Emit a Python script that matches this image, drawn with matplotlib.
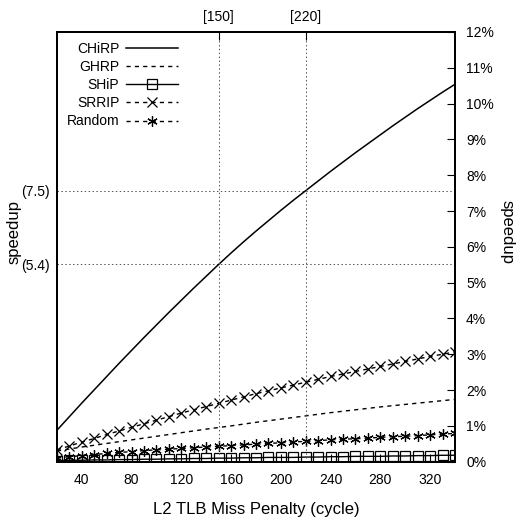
import matplotlib
matplotlib.use('Agg')
import matplotlib.pyplot as plt

plt.rcParams['font.family'] = ['Liberation Sans', 'DejaVu Sans']

# miss penalty (cycles)
x_fine = list(range(20, 341, 10))
x_coarse = list(range(20, 341, 20))

# speedup in percent
chirp = [0.88, 1.26, 1.64, 2.01, 2.38, 2.75, 3.11, 3.47, 3.82, 4.17, 4.51,
         4.85, 5.18, 5.51, 5.83, 6.14, 6.44, 6.73, 7.02, 7.30, 7.57, 7.84,
         8.11, 8.37, 8.63, 8.88, 9.13, 9.38, 9.62, 9.86, 10.09, 10.32, 10.54]
ghrp = [0.30, 0.41, 0.51, 0.61, 0.71, 0.81, 0.91, 1.00, 1.10, 1.19, 1.28,
        1.37, 1.45, 1.53, 1.60, 1.67, 1.74]
ship = [0.03, 0.04, 0.04, 0.05, 0.05, 0.06, 0.06, 0.07, 0.07, 0.08, 0.08,
        0.09, 0.09, 0.10, 0.10, 0.11, 0.11, 0.12, 0.12, 0.12, 0.13, 0.13,
        0.14, 0.14, 0.15, 0.15, 0.15, 0.16, 0.16, 0.17, 0.17, 0.18, 0.18]
srrip = [0.33, 0.44, 0.55, 0.65, 0.76, 0.86, 0.96, 1.06, 1.16, 1.26, 1.36,
         1.45, 1.54, 1.63, 1.72, 1.81, 1.90, 1.98, 2.06, 2.14, 2.22, 2.30,
         2.38, 2.45, 2.52, 2.59, 2.66, 2.73, 2.80, 2.87, 2.94, 3.00, 3.07]
rand = [0.10, 0.14, 0.17, 0.20, 0.23, 0.26, 0.28, 0.31, 0.33, 0.35, 0.37,
        0.39, 0.41, 0.43, 0.45, 0.47, 0.49, 0.51, 0.53, 0.55, 0.57, 0.59,
        0.61, 0.63, 0.64, 0.66, 0.68, 0.70, 0.71, 0.73, 0.75, 0.77, 0.79]

marked = [150, 220]
marked_labels = ['[150]', '[220]']
marked_speedup = ['(5.4)', '(7.5)']
pct_ticks = list(range(0, 13))
x_ticks = list(range(40, 321, 40))

fig = plt.figure(figsize=(5.2, 5.21), dpi=100)
ax = fig.add_axes([0.1096, 0.1138, 0.7654, 0.8248])

ax.plot(x_fine, chirp, color='black', lw=1.1, label='CHiRP')
ax.plot(x_coarse, ghrp, color='black', lw=1.0, dashes=(3, 3), label='GHRP')
ax.plot(x_fine, ship, color='black', lw=1.0, marker='s', ms=6.5,
        mfc='none', mew=0.9, label='SHiP')
ax.plot(x_fine, srrip, color='black', lw=1.0, dashes=(3, 3), marker='x',
        ms=7, mew=0.9, label='SRRIP')
ax.plot(x_fine, rand, color='black', lw=1.0, dashes=(3, 3), marker=(6, 2, 0),
        ms=7.5, mew=0.9, label='Random')

ax.set_xlim(20, 340)
ax.set_ylim(0, 12)

# left axis: chirp values at the marked penalties
yg = [chirp[x_fine.index(m)] for m in marked]
ax.set_yticks(yg)
ax.set_yticklabels(marked_speedup, fontsize=10)
ax.tick_params(axis='y', length=0, pad=5)
ax.yaxis.grid(True, ls=(0, (1.5, 2.5)), color='#555555', lw=0.7)
ax.set_ylabel('speedup', fontsize=12, labelpad=0)
ax.yaxis.label.set_y(0.535)

ax.set_xticks(x_ticks)
ax.tick_params(axis='x', direction='in', length=6, top=True, labelsize=10,
               pad=8)
ax.set_xlabel('L2 TLB Miss Penalty (cycle)', fontsize=12, labelpad=11)

# right axis in percent
ax2 = ax.twinx()
ax2.set_ylim(0, 12)
ax2.set_yticks(pct_ticks)
ax2.set_yticklabels([str(v) + '%' for v in pct_ticks], fontsize=10)
ax2.tick_params(axis='y', direction='in', length=6, pad=8)
ax2.set_ylabel('speedup', fontsize=12, rotation=270, labelpad=15)
ax2.yaxis.label.set_y(0.535)

# top axis with the marked penalties
ax3 = ax.twiny()
ax3.set_xlim(20, 340)
ax3.set_xticks(marked)
ax3.set_xticklabels(marked_labels, fontsize=10)
ax3.tick_params(axis='x', direction='in', length=6, pad=6)
ax3.xaxis.grid(True, ls=(0, (1.5, 2.5)), color='#555555', lw=0.7)

for a in (ax, ax2, ax3):
    for s in a.spines.values():
        s.set_linewidth(1.4)

leg = ax.legend(loc='upper left', bbox_to_anchor=(0.0, 1.0), frameon=False,
                markerfirst=False, fontsize=10, handlelength=3.7,
                labelspacing=0.3, handletextpad=0.5, borderaxespad=0.3)

fig.savefig('out.png', dpi=100)
